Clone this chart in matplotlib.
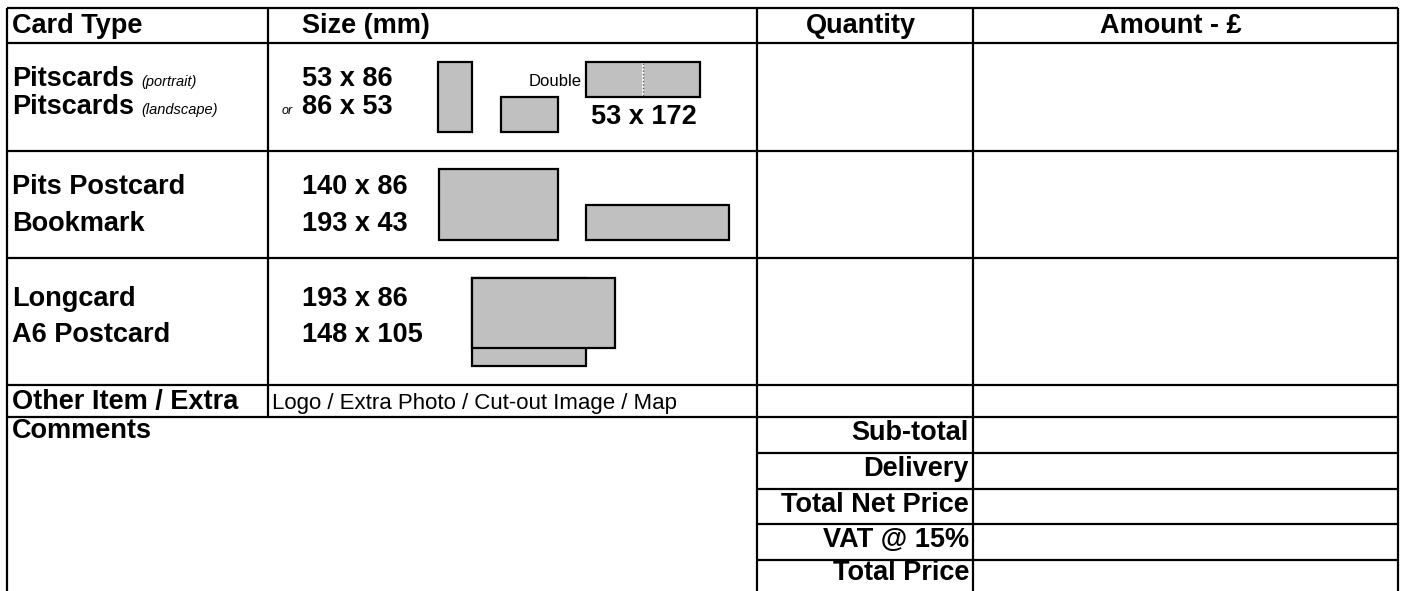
import matplotlib
matplotlib.use('Agg')
import matplotlib.pyplot as plt
from matplotlib.patches import Rectangle

# ---------------- data (text content of the order form) ----------------
header_labels = ['Card Type', 'Size (mm)', 'Quantity', 'Amount - £']
card_types = ['Pitscards', 'Pitscards', 'Pits Postcard', 'Bookmark', 'Longcard', 'A6 Postcard']
card_notes = ['(portrait)', '(landscape)', '', '', '', '']
card_sizes = ['53 x 86', '86 x 53', '140 x 86', '193 x 43', '193 x 86', '148 x 105']
size_prefix = ['', 'or', '', '', '', '']
double_label = 'Double'
double_size = '53 x 172'
extra_label = 'Other Item / Extra'
extra_desc = 'Logo / Extra Photo / Cut-out Image / Map'
comments_label = 'Comments'
total_labels = ['Sub-total', 'Delivery', 'Total Net Price', 'VAT @ 15%', 'Total Price']

# ---------------- layout ----------------
W, H = 1405, 591
FONT = ['Liberation Sans', 'DejaVu Sans']
BIG = 19.5
LW = 1.6
GREY = '#C0C0C0'

fig = plt.figure(figsize=(W / 100, H / 100), dpi=100)
ax = fig.add_axes([0, 0, 1, 1])
ax.set_xlim(0, W)
ax.set_ylim(H, 0)
ax.axis('off')

xL, xS, xQ, xA, xR = 7, 268, 757, 973, 1398
y_top, y_hdr = 8, 43
row_lines = [151, 258, 385, 417]
tot_lines = [453, 489, 524, 560]

# horizontal lines
for y in [y_top, y_hdr] + row_lines:
    ax.hlines(y, xL, xR, colors='black', lw=LW)
for y in tot_lines:
    ax.hlines(y, xQ, xR, colors='black', lw=LW)
# vertical lines
for x in [xL, xQ, xA, xR]:
    ax.vlines(x, y_top, H, colors='black', lw=LW)
ax.vlines(xS, y_top, row_lines[3], colors='black', lw=LW)

def txt(x, y, s, size=BIG, weight='bold', style='normal', ha='left'):
    ax.text(x, y, s, fontsize=size, fontweight=weight, fontstyle=style,
            family=FONT, ha=ha, va='baseline', color='black')

# header
txt(12, 33, header_labels[0])
txt(302, 33, header_labels[1])
txt(861, 33, header_labels[2], ha='center')
txt(1171, 33, header_labels[3], ha='center')

# card rows
name_base = [86, 114, 194, 231, 306, 342]
note_x = [141, 141]
for i, (name, note, size, pre) in enumerate(zip(card_types, card_notes, card_sizes, size_prefix)):
    yb = name_base[i]
    txt(12, yb, name)
    if note:
        txt(note_x[i], yb, note, size=10.5, weight='normal', style='italic')
    txt(302, yb, size)
    if pre:
        txt(282, yb, pre, size=9, weight='normal', style='italic')

def rect(x0, y0, x1, y1):
    ax.add_patch(Rectangle((x0, y0), x1 - x0, y1 - y0, facecolor=GREY,
                           edgecolor='black', lw=LW, zorder=3))

# Pitscards shapes
rect(438, 62, 472, 132)
rect(501, 97, 558, 132)
rect(586, 62, 700, 97)
ax.vlines(643, 63, 96, colors='white', lw=1.2, zorder=4)
ax.vlines(643, 63, 96, colors='#555555', lw=1.0, linestyles=(0, (1, 1.5)), zorder=5)
txt(582, 86, double_label, size=12, weight='normal', ha='right')
txt(591, 124, double_size)

# Postcard / Bookmark shapes
rect(439, 169, 558, 240)
rect(586, 205, 729, 240)

# A6 / Longcard shapes
rect(472, 278, 586, 366)
rect(472, 278, 615, 348)

# other item row
txt(12, 409, extra_label)
txt(272, 409, extra_desc, size=16, weight='normal')

# comments
txt(12, 438, comments_label)

# totals
tot_base = [440, 476, 512, 547, 580]
for lab, yb in zip(total_labels, tot_base):
    txt(969, yb, lab, ha='right')

fig.savefig('out.png', dpi=100)
